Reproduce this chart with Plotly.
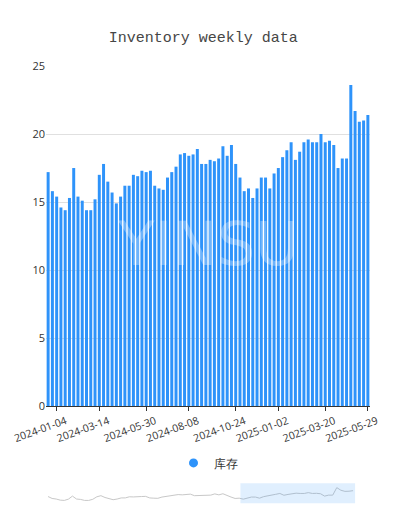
import plotly.graph_objects as go
import pandas as pd

values = [17.2,15.8,15.4,14.6,14.4,15.3,17.5,15.4,15.1,14.4,14.4,15.2,17.0,17.8,16.5,15.7,14.9,15.4,16.2,16.2,
          17.0,16.9,17.3,17.2,17.3,16.2,16.0,15.9,16.8,17.2,17.6,18.5,18.6,18.4,18.5,18.9,17.8,17.8,18.1,
          18.0,18.2,19.1,18.4,19.2,17.8,16.8,15.8,16.0,15.3,16.0,16.8,16.8,16.0,17.1,17.5,18.3,18.8,19.4,18.1,
          18.7,19.4,19.6,19.4,19.4,20.0,19.4,19.5,19.2,17.5,18.2,18.2,23.6,21.7,20.9,21.0,21.4]
dates = [d.strftime("%Y-%m-%d") for d in pd.date_range(end="2025-05-29", periods=len(values), freq="7D")]
tick_labels = ["2024-01-04","2024-03-14","2024-05-30","2024-08-08","2024-10-24","2025-01-02","2025-03-20","2025-05-29"]

fig = go.Figure()
fig.add_trace(go.Bar(x=dates, y=values, name="库存", marker_color="#2E93FA", marker_line_width=0,
                     showlegend=False))
fig.add_trace(go.Scatter(x=[None], y=[None], mode="markers", name="库存",
                         marker=dict(color="#2E93FA", size=9, symbol="circle")))
fig.add_trace(go.Scatter(x=list(range(len(values))), y=values, mode="lines", xaxis="x2", yaxis="y2",
                         line=dict(color="#c8c8c8", width=1), showlegend=False, hoverinfo="skip"))

fig.update_layout(
    width=407, height=529, plot_bgcolor="white", paper_bgcolor="white",
    margin=dict(l=38, r=45, t=58, b=27),
    title=dict(text="Inventory weekly data", x=0.48, xanchor="center", y=0.955,
               font=dict(family="Liberation Mono", size=15, color="#464646")),
    bargap=0.3,
    xaxis=dict(type="category", tickmode="array", tickvals=tick_labels, ticktext=tick_labels,
               tickangle=-20, tickfont=dict(size=10.5, color="#333"), showgrid=False,
               showline=True, linecolor="#333", ticks="outside", ticklen=4, tickcolor="#333",
               ticklabelshift=9,
               domain=[0, 1], anchor="y", automargin=False),
    yaxis=dict(range=[0, 25], dtick=5, gridcolor="#e0e0e0", showline=False, zeroline=False,
               tickfont=dict(size=11, color="#333"), domain=[0.234, 1], automargin=False),
    xaxis2=dict(domain=[0, 0.954], anchor="y2", visible=False, range=[-0.5, len(values)-0.5]),
    yaxis2=dict(domain=[0.02, 0.052], anchor="x2", visible=False),
    legend=dict(orientation="h", x=0.5, xanchor="center", y=0.106, yanchor="middle",
                font=dict(size=12, color="#333")),
    annotations=[dict(text="YINSU", x=0.5, y=0.6, xref="paper", yref="paper", showarrow=False,
                      font=dict(size=60, color="rgba(255,255,255,0.3)", family="DejaVu Sans"))],
    shapes=[dict(type="rect", xref="paper", yref="paper", x0=0.6, x1=0.954, y0=0.015, y1=0.06,
                 fillcolor="rgba(46,147,250,0.15)", line=dict(width=0))],
)
fig.write_html("out.html")
